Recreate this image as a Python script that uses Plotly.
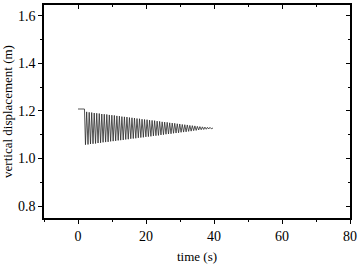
import plotly.graph_objects as go

# initial flat segment
start_times = [0.0, 1.9]
start_vals = [1.208, 1.208]

trough_times = [2.20, 2.94, 3.68, 4.42, 5.16, 5.90, 6.64, 7.38, 8.12, 8.86,
                9.60, 10.34, 11.08, 11.82, 12.56, 13.30, 14.04, 14.78, 15.52, 16.26,
                17.00, 17.74, 18.48, 19.22, 19.96, 20.70, 21.44, 22.18, 22.92, 23.66,
                24.40, 25.14, 25.88, 26.62, 27.36, 28.10, 28.84, 29.58, 30.32, 31.06,
                31.80, 32.54, 33.28, 34.02, 34.76, 35.50, 36.24, 36.98, 37.72, 38.46,
                39.20]
trough_vals = [1.058, 1.059, 1.061, 1.062, 1.063, 1.065, 1.066, 1.068, 1.069, 1.070,
               1.072, 1.073, 1.074, 1.076, 1.077, 1.078, 1.080, 1.081, 1.083, 1.084,
               1.085, 1.087, 1.088, 1.089, 1.091, 1.092, 1.093, 1.095, 1.096, 1.097,
               1.099, 1.100, 1.102, 1.103, 1.104, 1.106, 1.107, 1.108, 1.110, 1.111,
               1.112, 1.114, 1.115, 1.117, 1.118, 1.120, 1.121, 1.122, 1.123, 1.124,
               1.125]
peak_times = [2.55, 3.29, 4.03, 4.77, 5.51, 6.25, 6.99, 7.73, 8.47, 9.21,
              9.95, 10.69, 11.43, 12.17, 12.91, 13.65, 14.39, 15.13, 15.87, 16.61,
              17.35, 18.09, 18.83, 19.57, 20.31, 21.05, 21.79, 22.53, 23.27, 24.01,
              24.75, 25.49, 26.23, 26.97, 27.71, 28.45, 29.19, 29.93, 30.67, 31.41,
              32.15, 32.89, 33.63, 34.37, 35.11, 35.85, 36.59, 37.33, 38.07, 38.81,
              39.55]
peak_vals = [1.196, 1.194, 1.193, 1.191, 1.190, 1.189, 1.187, 1.186, 1.185, 1.183,
             1.182, 1.181, 1.179, 1.178, 1.176, 1.175, 1.174, 1.172, 1.171, 1.170,
             1.168, 1.167, 1.165, 1.164, 1.163, 1.161, 1.160, 1.159, 1.157, 1.156,
             1.154, 1.153, 1.152, 1.150, 1.149, 1.148, 1.146, 1.145, 1.143, 1.142,
             1.141, 1.139, 1.138, 1.137, 1.135, 1.134, 1.133, 1.132, 1.131, 1.131,
             1.130]
end_times = [39.7]
end_vals = [1.128]

x_tickvals = [0, 20, 40, 60, 80]
y_tickvals = [0.8, 1.0, 1.2, 1.4, 1.6]
y_ticktext = ["0.8", "1.0", "1.2", "1.4", "1.6"]

t = list(start_times)
v = list(start_vals)
for tt, tv, pt, pv in zip(trough_times, trough_vals, peak_times, peak_vals):
    t += [tt, pt]
    v += [tv, pv]
t += end_times
v += end_vals

font = "Liberation Serif, Times New Roman, serif"
fig = go.Figure()
fig.add_trace(go.Scatter(x=t, y=v, mode="lines",
                         line=dict(color="#2a2a2a", width=0.8),
                         showlegend=False, hoverinfo="skip"))
fig.add_trace(go.Scatter(x=[None], y=[None], xaxis="x2", yaxis="y2",
                         showlegend=False, hoverinfo="skip"))

XR = [-10, 80]
YR = [0.75, 1.645]
axcommon = dict(showline=True, linecolor="black", linewidth=1.6, showgrid=False,
                zeroline=False, tickcolor="black", tickwidth=1.4)
fig.update_layout(
    width=364, height=267,
    margin=dict(l=44, r=14, t=5, b=37),
    paper_bgcolor="white", plot_bgcolor="white",
    font=dict(family=font, size=14, color="black"),
    xaxis=dict(range=XR, tickvals=x_tickvals, ticks="outside", ticklen=4,
               tickfont=dict(size=14),
               minor=dict(ticks="outside", ticklen=2.5, dtick=10, tick0=0,
                          tickcolor="black", tickwidth=1.2),
               title=dict(text="time (s)", standoff=9, font=dict(size=13)),
               **axcommon),
    yaxis=dict(range=YR, tickvals=y_tickvals, ticktext=y_ticktext,
               ticks="outside", ticklen=4, tickfont=dict(size=14),
               minor=dict(ticks="outside", ticklen=2.5, dtick=0.1, tick0=0.7,
                          tickcolor="black", tickwidth=1.2),
               title=dict(text="vertical displacement (m)", standoff=4, font=dict(size=13)),
               **axcommon),
    xaxis2=dict(range=XR, overlaying="x", side="top", anchor="y",
                tickvals=x_tickvals, ticks="inside", ticklen=4, showticklabels=False,
                minor=dict(ticks="inside", ticklen=2.5, dtick=10, tick0=0,
                           tickcolor="black", tickwidth=1.2),
                **axcommon),
    yaxis2=dict(range=YR, overlaying="y", side="right", anchor="x",
                tickvals=y_tickvals, ticks="inside", ticklen=4, showticklabels=False,
                minor=dict(ticks="inside", ticklen=2.5, dtick=0.1, tick0=0.7,
                           tickcolor="black", tickwidth=1.2),
                **axcommon),
)
fig.write_html("out.html")
